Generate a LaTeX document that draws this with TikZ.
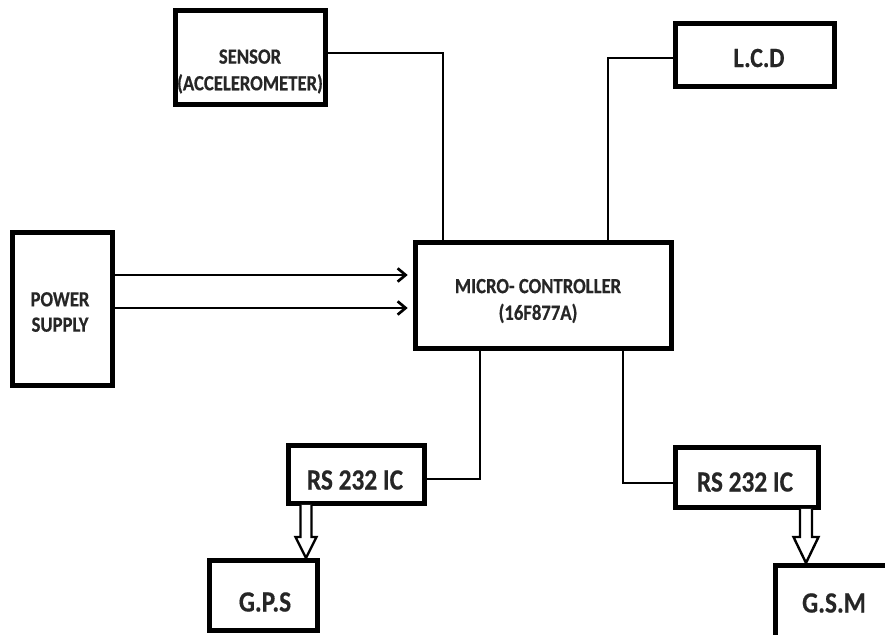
\documentclass[tikz,border=0pt]{standalone}
\usepackage{fontspec}
\usepackage{graphicx}
\setmainfont{Carlito}[BoldFeatures={FakeBold=0.5}]
\usetikzlibrary{arrows.meta,calc}
\newcommand\tallline[1]{\scalebox{1}[1.16]{#1}}
\begin{document}
\begin{tikzpicture}[x=0.75pt,y=-0.75pt,
  box/.style={draw=black, line width=3.7pt, inner sep=0pt, fill=white},
  txt/.style={align=center, text=black!85, font=\bfseries\fontsize{14}{20}\selectfont, inner sep=0pt},
  bigtxt/.style={align=center, text=black!85, font=\bfseries\fontsize{19}{22}\selectfont, inner sep=0pt},
  conn/.style={draw=black, line width=2pt},
  parrow/.style={conn, -{Straight Barb[length=6pt,width=10pt,line width=2pt]}, shorten >=4pt},
  hollow/.style={draw=black, line width=1.8pt, line join=miter, fill=white}]
\clip (0,0) rectangle (885,635);
\fill[white] (0,0) rectangle (885,635);

% boxes
\node[box, minimum width=112.5pt, minimum height=70.5pt] (sensor) at (250.5,57.5) {};
\node[box, minimum width=119.25pt, minimum height=47.25pt] (lcd) at (755,55) {};
\node[box, minimum width=75pt, minimum height=114.75pt] (power) at (62.5,309) {};
\node[box, minimum width=192pt, minimum height=79.5pt] (micro) at (543.5,295.5) {};
\node[box, minimum width=102pt, minimum height=43.5pt] (rsl) at (356.5,474.5) {};
\node[box, minimum width=107.25pt, minimum height=45pt] (rsr) at (747,477.5) {};
\node[box, minimum width=81pt, minimum height=52.5pt] (gps) at (263.5,595.5) {};
\node[box, minimum width=97pt, minimum height=71pt] (gsm) at (840.25,612.75) {};

% texts
\node[txt] (sensortxt) at (250,71.5) {\tallline{SENSOR}\\\tallline{(ACCELEROMETER)}};
\node[bigtxt, font=\bfseries\fontsize{18}{22}\selectfont] (lcdtxt) at (759,58) {\tallline{L.C.D}};
\node[txt, font=\bfseries\fontsize{14}{19}\selectfont] (powertxt) at (60,312) {\tallline{POWER}\\\tallline{SUPPLY}};
\node[txt] (microtxt) at (538,301) {\tallline{MICRO- CONTROLLER}\\\tallline{(16F877A)}};
\node[bigtxt] (rsltxt) at (355,480) {\tallline{RS 232 IC}};
\node[bigtxt] (rsrtxt) at (745,482) {\tallline{RS 232 IC}};
\node[bigtxt] (gpstxt) at (265,602) {\tallline{G.P.S}};
\node[bigtxt] (gsmtxt) at (834,603) {\tallline{G.S.M}};

% connector bends
\coordinate (s1) at (443,53);
\coordinate (l1) at (608,58);
\coordinate (r1) at (480,479);
\coordinate (r2) at (623,483);
\coordinate (p1) at (0,275);
\coordinate (p2) at (0,308);

\draw[conn] (sensor.east |- s1) -- (s1) -- (s1 |- micro.north);
\draw[conn] (lcd.west |- l1) -- (l1) -- (l1 |- micro.north);
\draw[conn] (rsl.east |- r1) -- (r1) -- (r1 |- micro.south);
\draw[conn] (rsr.west |- r2) -- (r2) -- (r2 |- micro.south);

\draw[parrow] (power.east |- p1) -- (micro.west |- p1);
\draw[parrow] (power.east |- p2) -- (micro.west |- p2);

% hollow arrows
\coordinate (a1) at (306,537);
\coordinate (a2) at (806,537);
\draw[hollow] ($(rsl.south -| a1)+(-5.5,-1)$) |- ($(a1)+(-10.5,0)$) -- (gps.north -| a1) -- ($(a1)+(10.5,0)$) -| ($(rsl.south -| a1)+(5.5,-1)$);
\draw[hollow] ($(rsr.south -| a2)+(-6,-1)$) |- ($(a2)+(-12.5,0)$) -- (gsm.north -| a2) -- ($(a2)+(12.5,0)$) -| ($(rsr.south -| a2)+(6,-1)$);
\end{tikzpicture}
\end{document}
